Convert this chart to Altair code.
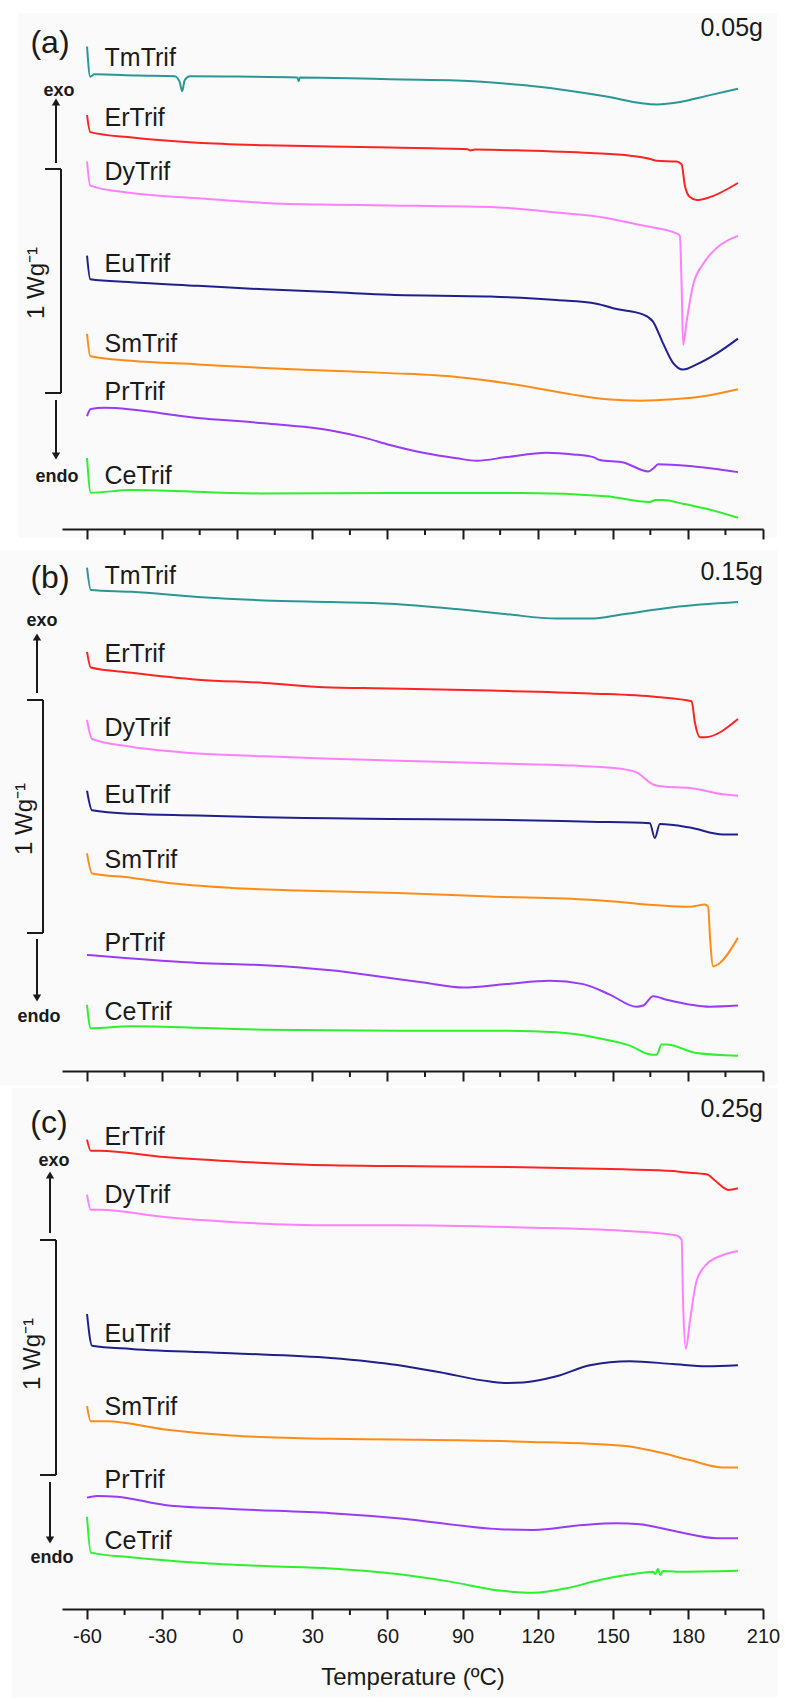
import altair as alt
import pandas as pd

# ---------------- data (heat flow in W/g, stacked curves; temperature in deg C) ----------------
SERIES = ["TmTrif", "ErTrif", "DyTrif", "EuTrif", "SmTrif", "PrTrif", "CeTrif"]
COLORS = ["#2b9696", "#ff2424", "#ff80ff", "#20208c", "#ff8c1a", "#9a3cf5", "#2ef02e"]
MAJOR_TICKS = [-60, -30, 0, 30, 60, 90, 120, 150, 180, 210]
MINOR_TICKS = [-45, -15, 15, 45, 75, 105, 135, 165, 195]
X_DOMAIN = [-70, 210]
LABEL_T = -53

# panel (a) 0.05 g
A_TM_T = [-60, -58.7, -57, -40, -25, -23, -22, -21, -19, 0, 24, 24.5, 25, 45, 61, 87.6, 114, 134, 147.5, 161, 167.5, 177, 187.5, 200]
A_TM_V = [2.154, 2.019, 2.030, 2.025, 2.022, 1.996, 1.955, 2.004, 2.022, 2.020, 2.016, 2.000, 2.016, 2.013, 2.008, 2.003, 1.982, 1.955, 1.931, 1.902, 1.896, 1.907, 1.934, 1.966]
A_ER_T = [-60, -58.7, -42, -16, 11, 37, 61, 92, 93, 95, 114, 141, 157, 165, 167.5, 175.5, 177.5, 178.8, 180.8, 183.5, 187.5, 200]
A_ER_V = [1.848, 1.772, 1.748, 1.725, 1.714, 1.708, 1.703, 1.696, 1.690, 1.694, 1.690, 1.679, 1.667, 1.652, 1.644, 1.641, 1.628, 1.533, 1.482, 1.469, 1.477, 1.545]
A_DY_T = [-60, -58.7, -42.4, -15.8, 10.8, 37.4, 61, 101, 127.5, 147.5, 161, 176.1, 176.8, 177.5, 178.1, 179.5, 182, 186, 191.4, 200]
A_DY_V = [1.641, 1.533, 1.500, 1.477, 1.456, 1.448, 1.445, 1.438, 1.413, 1.389, 1.357, 1.317, 1.309, 1.086, 0.823, 0.927, 1.086, 1.182, 1.254, 1.309]
A_EU_T = [-60, -58.7, -42.4, -15.8, 10.8, 37.4, 61, 101, 127.5, 143.5, 151.5, 162, 166, 170, 174, 178.1, 183.5, 191.4, 200]
A_EU_V = [1.221, 1.115, 1.102, 1.086, 1.070, 1.058, 1.046, 1.038, 1.022, 1.006, 0.982, 0.958, 0.927, 0.831, 0.743, 0.712, 0.735, 0.783, 0.850]
A_SM_T = [-60, -58.7, -42.4, -15.8, 10.8, 37.4, 61, 87.6, 114, 134, 147.5, 161, 174, 187.5, 200]
A_SM_V = [0.871, 0.771, 0.751, 0.735, 0.719, 0.707, 0.696, 0.679, 0.640, 0.600, 0.579, 0.573, 0.579, 0.595, 0.624]
A_PR_T = [-60, -58.5, -53, -15.8, 10.8, 37.4, 50.7, 61, 74.3, 87.6, 95.6, 107.6, 123.6, 134.2, 142.2, 144.9, 154.2, 164.2, 166.2, 168.1, 180.8, 200]
A_PR_V = [0.504, 0.536, 0.541, 0.496, 0.472, 0.440, 0.408, 0.375, 0.340, 0.316, 0.305, 0.321, 0.340, 0.333, 0.321, 0.308, 0.297, 0.257, 0.270, 0.289, 0.281, 0.254]
A_CE_T = [-60, -58.5, -42.4, 9, 61, 114, 147.5, 164.8, 167, 170, 178, 187.5, 200]
A_CE_V = [0.317, 0.162, 0.174, 0.159, 0.161, 0.161, 0.146, 0.121, 0.129, 0.129, 0.113, 0.090, 0.050]
A_LABEL_V = [2.103, 1.837, 1.594, 1.183, 0.826, 0.612, 0.237]

# panel (b) 0.15 g
B_TM_T = [-60, -58.5, -42, -15.8, 10.8, 37.4, 61, 87.6, 107.6, 127.5, 140.9, 154.2, 174.1, 200]
B_TM_V = [2.161, 2.065, 2.057, 2.035, 2.020, 2.013, 2.006, 1.983, 1.961, 1.942, 1.942, 1.961, 1.991, 2.013]
B_ER_T = [-60, -58.5, -42.4, -15.8, 10.8, 37.4, 50.7, 61, 101, 141, 167.5, 181.5, 182.8, 184.8, 186.8, 200]
B_ER_V = [1.799, 1.732, 1.710, 1.680, 1.666, 1.646, 1.644, 1.642, 1.633, 1.621, 1.606, 1.587, 1.496, 1.433, 1.433, 1.511]
B_DY_T = [-60, -58, -42.4, -15.8, 10.8, 37.4, 61, 101, 134.2, 154.2, 159.5, 166.1, 170.1, 180.8, 194.1, 200]
B_DY_V = [1.507, 1.425, 1.392, 1.363, 1.351, 1.340, 1.333, 1.321, 1.311, 1.296, 1.282, 1.230, 1.221, 1.215, 1.188, 1.182]
B_EU_T = [-60, -58, -42.4, -15.8, 10.8, 37.4, 61, 101, 140.9, 164.8, 166.8, 168.8, 180.8, 194.1, 200]
B_EU_V = [1.203, 1.119, 1.104, 1.097, 1.089, 1.085, 1.082, 1.079, 1.070, 1.064, 1.000, 1.060, 1.045, 1.015, 1.015]
B_SM_T = [-60, -58, -42.4, -29, -2.4, 24.2, 64, 101, 140.9, 180.8, 186.8, 188.1, 188.8, 190.1, 192.1, 200]
B_SM_V = [0.934, 0.848, 0.830, 0.809, 0.786, 0.775, 0.764, 0.749, 0.735, 0.705, 0.715, 0.705, 0.579, 0.449, 0.458, 0.572]
B_PR_T = [-60, -42.4, -15.8, 10.8, 37.4, 61, 74.3, 90.3, 107.6, 124.9, 138.2, 148.8, 159.5, 162.2, 166.1, 171.5, 188.8, 200]
B_PR_V = [0.498, 0.483, 0.464, 0.454, 0.432, 0.399, 0.380, 0.358, 0.373, 0.387, 0.373, 0.328, 0.276, 0.281, 0.321, 0.306, 0.276, 0.281]
B_CE_T = [-60, -58.5, -42.4, 10.8, 64, 101, 127.5, 143.5, 156.8, 165.5, 167.5, 169.5, 171.5, 183.5, 200]
B_CE_V = [0.284, 0.183, 0.192, 0.177, 0.173, 0.173, 0.166, 0.143, 0.109, 0.070, 0.070, 0.114, 0.114, 0.077, 0.065]
B_LABEL_V = [2.124, 1.791, 1.473, 1.185, 0.905, 0.550, 0.254]

# panel (c) 0.25 g
C_ER_T = [-60, -58.5, -55, -29, -2.4, 37.4, 64, 114, 154, 174.1, 178, 187.5, 190.8, 194.1, 196.1, 200]
C_ER_V = [1.989, 1.942, 1.942, 1.915, 1.897, 1.880, 1.877, 1.872, 1.863, 1.856, 1.851, 1.842, 1.816, 1.787, 1.776, 1.783]
C_DY_T = [-60, -58.5, -55, -29, -2.4, 37.4, 64, 114, 154, 175.5, 177.5, 178.1, 179.2, 180.8, 183.5, 187.5, 194.1, 200]
C_DY_V = [1.756, 1.692, 1.692, 1.661, 1.640, 1.626, 1.626, 1.617, 1.603, 1.583, 1.565, 1.289, 1.102, 1.219, 1.392, 1.461, 1.500, 1.517]
C_EU_T = [-60, -58, -42.4, -2.4, 37.4, 64, 81, 101, 107.6, 114.2, 127.5, 140.9, 156.8, 174.1, 187.5, 200]
C_EU_V = [1.250, 1.116, 1.102, 1.084, 1.064, 1.034, 1.003, 0.964, 0.958, 0.960, 0.986, 1.033, 1.050, 1.038, 1.029, 1.033]
C_SM_T = [-60, -58.5, -52, -29, -2.4, 37.4, 64, 114, 154, 167.5, 180.8, 194.1, 200]
C_SM_V = [0.860, 0.796, 0.796, 0.761, 0.735, 0.721, 0.718, 0.709, 0.692, 0.666, 0.631, 0.600, 0.600]
C_PR_T = [-60, -56, -48, -29, -2.4, 37.4, 64, 104.9, 118.2, 138.2, 151.5, 160.8, 175.5, 191.4, 200]
C_PR_V = [0.472, 0.479, 0.476, 0.441, 0.424, 0.406, 0.385, 0.338, 0.335, 0.356, 0.363, 0.359, 0.328, 0.300, 0.300]
C_CE_T = [-60, -58.5, -42.4, -15.8, 10.8, 37.4, 64, 85, 104.9, 118.2, 131.5, 144.8, 158.1, 166.1, 167, 168, 169, 170, 175.5, 200]
C_CE_V = [0.391, 0.239, 0.219, 0.196, 0.182, 0.172, 0.148, 0.116, 0.078, 0.069, 0.088, 0.123, 0.148, 0.158, 0.148, 0.169, 0.144, 0.161, 0.158, 0.162]
C_LABEL_V = [2.000, 1.754, 1.167, 0.856, 0.547, 0.288]

# y ranges of the three panels (W/g)
Y_DOMAIN_A = [0, 2.304]
Y_DOMAIN_B = [0, 2.258]
Y_DOMAIN_C = [0, 2.212]

# ---------------- styling ----------------
FONT = "Liberation Sans"
INK = "#1a1a1a"
BG = "#fafafa"
W = 701
ONE = pd.DataFrame({"k": [0]})


def line_df(curves):
    rows = []
    for name, ts, vs in curves:
        for i, (t, v) in enumerate(zip(ts, vs)):
            rows.append({"series": name, "T": t, "v": v, "i": i})
    return pd.DataFrame(rows)


def vrule(x, y1, y2):
    return alt.Chart(ONE).mark_rule(color=INK, strokeWidth=2).encode(
        x=alt.value(x), y=alt.value(y1), y2=alt.value(y2))


def hrule(x1, x2, y):
    return alt.Chart(ONE).mark_rule(color=INK, strokeWidth=2).encode(
        x=alt.value(x1), x2=alt.value(x2), y=alt.value(y))


def tri(x, y, shape):
    return alt.Chart(ONE).mark_point(shape=shape, filled=True, size=70, color=INK,
                                     opacity=1).encode(x=alt.value(x), y=alt.value(y))


def note(text, x, y, size, weight="normal", angle=0, align="center"):
    return alt.Chart(ONE).mark_text(text=text, font=FONT, fontSize=size, fontWeight=weight,
                                    angle=angle, align=align, baseline="middle",
                                    color=INK).encode(x=alt.value(x), y=alt.value(y))


def panel(curves, label_vals, height, ydom, tag, mass, ann, bg, bottom):
    xs = alt.Scale(domain=X_DOMAIN, nice=False, zero=False)
    ys = alt.Scale(domain=ydom, nice=False, zero=False)
    common = dict(values=MAJOR_TICKS, tickSize=10, tickWidth=2, domainWidth=2,
                  tickColor=INK, domainColor=INK, grid=False, zindex=1)
    if bottom:
        axis = alt.Axis(title="Temperature (ºC)", labelFont=FONT, labelFontSize=20,
                        labelColor=INK, labelPadding=7, labelFlush=False,
                        labelExpr="'' + datum.value",
                        titleFont=FONT, titleFontSize=24, titleFontWeight="normal",
                        titleColor=INK, titlePadding=19, **common)
    else:
        axis = alt.Axis(title="", labels=False, **common)
    X = alt.X("T:Q", scale=xs, axis=axis)
    Y = alt.Y("v:Q", scale=ys, axis=None)

    back = alt.Chart(ONE).mark_rect(color=BG).encode(
        x=alt.value(bg[0]), x2=alt.value(bg[1]), y=alt.value(bg[2]), y2=alt.value(bg[3]))
    minor = alt.Chart(pd.DataFrame({"T": MINOR_TICKS})).mark_rule(
        color=INK, strokeWidth=2).encode(x=X, y=alt.value(height), y2=alt.value(height + 6))
    lines = alt.Chart(line_df(curves)).mark_line(strokeWidth=2, interpolate="monotone").encode(
        x=X, y=Y,
        color=alt.Color("series:N", scale=alt.Scale(domain=SERIES, range=COLORS), legend=None),
        order=alt.Order("i:Q"))
    lab_df = pd.DataFrame({"series": [c[0] for c in curves],
                           "T": [LABEL_T] * len(curves), "v": label_vals})
    labels = alt.Chart(lab_df).mark_text(align="left", baseline="middle", font=FONT,
                                         fontSize=25, color=INK).encode(x=X, y=Y, text="series:N")

    a = ann
    deco = [
        note(tag, a["tag"][0], a["tag"][1], 32),
        note(mass, W, a["mass_y"], 25, align="right"),
        note("exo", a["exo"][0], a["exo"][1], 18, weight="bold"),
        note("endo", a["endo"][0], a["endo"][1], 18, weight="bold"),
        note("1 Wg⁻¹", a["unit"][0], a["unit"][1], 24, angle=270),
        vrule(a["arrow_x"], a["up"][0], a["up"][1]),
        tri(a["arrow_x"], a["up"][1] - 3, "triangle-up"),
        vrule(a["arrow_x"], a["down"][0], a["down"][1]),
        tri(a["arrow_x"], a["down"][1] + 3, "triangle-down"),
        vrule(a["br_x"], a["br_y"][0], a["br_y"][1]),
        hrule(a["br_x"] - 16, a["br_x"], a["br_y"][0]),
        hrule(a["br_x"] - 16, a["br_x"], a["br_y"][1]),
    ]
    return alt.layer(back, minor, lines, labels, *deco).properties(width=W, height=height)


curves_a = [("TmTrif", A_TM_T, A_TM_V), ("ErTrif", A_ER_T, A_ER_V), ("DyTrif", A_DY_T, A_DY_V),
            ("EuTrif", A_EU_T, A_EU_V), ("SmTrif", A_SM_T, A_SM_V), ("PrTrif", A_PR_T, A_PR_V),
            ("CeTrif", A_CE_T, A_CE_V)]
curves_b = [("TmTrif", B_TM_T, B_TM_V), ("ErTrif", B_ER_T, B_ER_V), ("DyTrif", B_DY_T, B_DY_V),
            ("EuTrif", B_EU_T, B_EU_V), ("SmTrif", B_SM_T, B_SM_V), ("PrTrif", B_PR_T, B_PR_V),
            ("CeTrif", B_CE_T, B_CE_V)]
curves_c = [("ErTrif", C_ER_T, C_ER_V), ("DyTrif", C_DY_T, C_DY_V), ("EuTrif", C_EU_T, C_EU_V),
            ("SmTrif", C_SM_T, C_SM_V), ("PrTrif", C_PR_T, C_PR_V), ("CeTrif", C_CE_T, C_CE_V)]

ann_a = {"tag": (-12, 30), "mass_y": 15, "exo": (-3, 78), "endo": (-5, 464), "unit": (-25, 270),
         "arrow_x": -6, "up": (150, 92), "down": (387, 440), "br_x": -1, "br_y": (156, 380)}
ann_b = {"tag": (-12, 33), "mass_y": 27, "exo": (-20, 76), "endo": (-23, 472), "unit": (-37, 274),
         "arrow_x": -25, "up": (148, 95), "down": (394, 450), "br_x": -19, "br_y": (155, 388)}
ann_c = {"tag": (-13, 36), "mass_y": 22, "exo": (-8, 74), "endo": (-10, 471), "unit": (-29, 267),
         "arrow_x": -12, "up": (146, 91), "down": (395, 450), "br_x": -6, "br_y": (153, 388)}

pa = panel(curves_a, A_LABEL_V, 516, Y_DOMAIN_A, "(a)", "0.05g", ann_a, (-44, 715, 0, 525), False)
pb = panel(curves_b, B_LABEL_V, 526, Y_DOMAIN_B, "(b)", "0.15g", ann_b, (-62, 716, 5, 540), False)
pc = panel(curves_c, C_LABEL_V, 522, Y_DOMAIN_C, "(c)", "0.25g", ann_c, (-50, 716, 1, 610), True)

chart = alt.vconcat(pa, pb, pc, spacing=16, bounds="flush").properties(
    padding={"left": 0, "top": 13, "right": 5, "bottom": 3}
).configure_view(stroke=None)

chart.save("out.html", embed_options={"renderer": "svg", "actions": False})
